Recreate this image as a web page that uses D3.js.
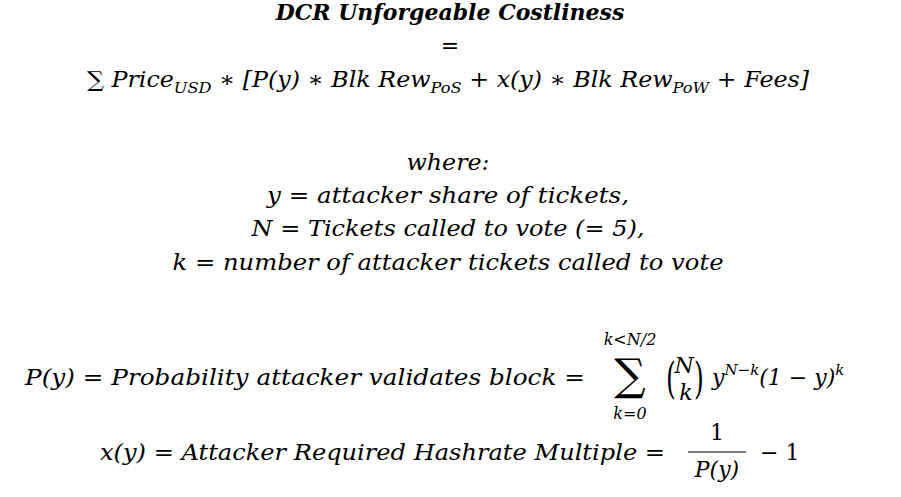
<!DOCTYPE html>
<html><head><meta charset="utf-8">
<script src="https://cdn.jsdelivr.net/npm/d3@7"></script>
<style>body{margin:0;background:#fff}text{font-family:"DejaVu Serif","Liberation Serif",serif;font-style:italic;fill:#000}</style>
</head><body><svg id="c" width="901" height="497"></svg>
<script>
const title = "DCR Unforgeable Costliness";
const whereLines = ["where:", "y = attacker share of tickets,", "N = Tickets called to vote (= 5),", "k = number of attacker tickets called to vote"];
const whereY = [170, 203, 236, 270];
const whereW = [83, 362, 393, 551];
const svg = d3.select("#c");
const fs = 22;
svg.append("text").attr("x",450).attr("y",20).attr("text-anchor","middle").attr("font-size",fs).attr("font-weight","bold").text(title);
svg.append("text").attr("x",450).attr("y",53).attr("text-anchor","middle").attr("font-size",fs).style("font-style","normal").text("=");
const m = svg.append("text").attr("x",448).attr("y",87).attr("text-anchor","middle").attr("font-size",fs).attr("textLength",722).attr("lengthAdjust","spacingAndGlyphs");
const parts = [["∑ Price",0],["USD",1],[" ∗ [P(y) ∗ Blk Rew",0],["PoS",1],[" + x(y) ∗ Blk Rew",0],["PoW",1],[" + Fees]",0]];
let prevSub=false;
parts.forEach(([t,s])=>{const ts=m.append("tspan").text(t);
  if(s){ts.attr("font-size",15).attr("dy",6);prevSub=true;}
  else if(prevSub){ts.attr("dy",-6);prevSub=false;}});
svg.selectAll("text.w").data(whereLines).join("text").attr("class","w").attr("x",448).attr("y",(d,i)=>whereY[i]).attr("text-anchor","middle").attr("font-size",fs).attr("textLength",(d,i)=>whereW[i]).attr("lengthAdjust","spacingAndGlyphs").text(d=>d);
svg.append("text").attr("x",25).attr("y",385).attr("font-size",fs).attr("textLength",560).attr("lengthAdjust","spacingAndGlyphs").text("P(y) = Probability attacker validates block =");
svg.append("text").attr("x",630).attr("y",390).attr("text-anchor","middle").attr("font-size",44).style("font-style","normal").text("∑");
svg.append("text").attr("x",630).attr("y",345).attr("text-anchor","middle").attr("font-size",16).text("k<N/2");
svg.append("text").attr("x",630).attr("y",419).attr("text-anchor","middle").attr("font-size",16).text("k=0");
svg.append("text").attr("transform","translate(666,393) scale(0.6,1)").attr("font-size",42).style("font-style","normal").text("(");
svg.append("text").attr("transform","translate(694,393) scale(0.6,1)").attr("font-size",42).style("font-style","normal").text(")");
svg.append("text").attr("x",684).attr("y",373).attr("text-anchor","middle").attr("font-size",fs).text("N");
svg.append("text").attr("x",686).attr("y",400).attr("text-anchor","middle").attr("font-size",fs).text("k");
const t2 = svg.append("text").attr("x",712).attr("y",385).attr("font-size",fs);
t2.append("tspan").text("y");
t2.append("tspan").attr("font-size",15).attr("dy",-10).text("N−k");
t2.append("tspan").attr("dy",10).text("(1 − y)");
t2.append("tspan").attr("font-size",15).attr("dy",-10).text("k");
svg.append("text").attr("x",100).attr("y",460).attr("font-size",fs).attr("textLength",565).attr("lengthAdjust","spacingAndGlyphs").text("x(y) = Attacker Required Hashrate Multiple =");
svg.append("text").attr("x",717).attr("y",440).attr("text-anchor","middle").attr("font-size",fs).style("font-style","normal").text("1");
svg.append("line").attr("x1",688).attr("x2",746).attr("y1",452).attr("y2",452).attr("stroke","#000").attr("stroke-width",1.2);
svg.append("text").attr("x",717).attr("y",477).attr("text-anchor","middle").attr("font-size",fs).text("P(y)");
svg.append("text").attr("x",760).attr("y",460).attr("font-size",fs).style("font-style","normal").text("− 1");
</script></body></html>
